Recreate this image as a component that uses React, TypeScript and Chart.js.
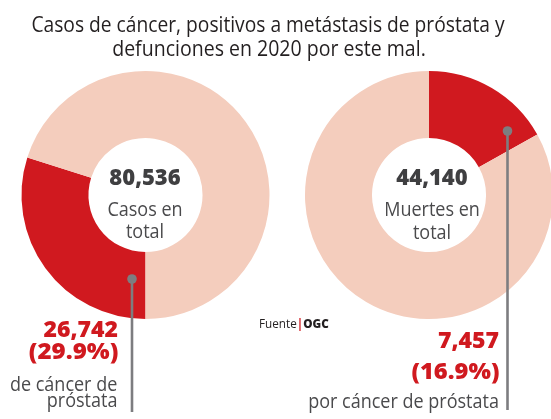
import React, { useEffect, useRef } from "react";
import { Chart, registerables } from "chart.js";

Chart.register(...registerables);

// ---- data ----
const TITLE_LINES = [
  "Casos de cáncer, positivos a metástasis de próstata y",
  "defunciones en 2020 por este mal.",
];
const SEGMENT_LABELS = ["Cáncer de próstata", "Otros"];
const CASES_VALUES = [29.9, 70.1];
const DEATHS_VALUES = [16.9, 83.1];
const CASES_TOTAL = "80,536";
const CASES_CENTER = ["Casos en", "total"];
const DEATHS_TOTAL = "44,140";
const DEATHS_CENTER = ["Muertes en", "total"];
const CASES_PROSTATE = "26,742";
const CASES_PCT = "(29.9%)";
const CASES_NOTE = ["de cáncer de", "próstata"];
const DEATHS_PROSTATE = "7,457";
const DEATHS_PCT = "(16.9%)";
const DEATHS_NOTE = ["por cáncer de próstata"];
const SOURCE = ["Fuente", "OGC"];

const RED = "#d0191f";
const PINK = "#f4cdbd";
const GREY_LINE = "#7d7d80";
const W = 551;
const H = 419;
const FONT = '"Open Sans", sans-serif';

const connectorPlugin = {
  id: "connector",
  afterDatasetsDraw(chart: any, _args: any, opts: any) {
    const arc = chart.getDatasetMeta(0).data[0];
    if (!arc) return;
    const cx = arc.x + opts.dx;
    const cy = arc.y + opts.dy;
    const ctx = chart.ctx;
    ctx.save();
    ctx.strokeStyle = opts.color;
    ctx.fillStyle = opts.color;
    ctx.lineWidth = 2.6;
    ctx.beginPath();
    ctx.moveTo(cx, cy);
    ctx.lineTo(cx, arc.y + opts.endDy);
    ctx.stroke();
    ctx.beginPath();
    ctx.arc(cx, cy, 4.8, 0, Math.PI * 2);
    ctx.fill();
    ctx.restore();
  },
};

function makeChart(
  canvas: HTMLCanvasElement,
  values: number[],
  rotation: number,
  padding: any,
  connector: any
) {
  return new Chart(canvas, {
    type: "doughnut",
    data: {
      labels: SEGMENT_LABELS,
      datasets: [
        {
          data: values,
          backgroundColor: [RED, PINK],
          borderWidth: 0,
          hoverOffset: 0,
        },
      ],
    },
    options: {
      responsive: false,
      animation: false,
      rotation,
      cutout: "46%",
      layout: { padding },
      plugins: {
        legend: { display: false },
        tooltip: { enabled: false },
        connector,
      } as any,
    },
    plugins: [connectorPlugin as any],
  });
}

function T(props: {
  x: number;
  y: number;
  size: number;
  weight?: number;
  color: string;
  align?: "left" | "center" | "right";
  sx?: number;
  children: React.ReactNode;
}) {
  const { x, y, size, weight = 400, color, align = "left", sx = 1, children } = props;
  const style: React.CSSProperties = {
    position: "absolute",
    top: y - 0.888 * size,
    fontSize: size,
    lineHeight: size + "px",
    fontWeight: weight,
    color,
    whiteSpace: "nowrap",
    fontFamily: FONT,
  };
  if (align === "left") {
    style.left = x;
    style.transformOrigin = "left center";
    style.transform = `scaleX(${sx})`;
  } else if (align === "center") {
    style.left = x;
    style.transform = `translateX(-50%) scaleX(${sx})`;
  } else {
    style.right = W - x;
    style.transformOrigin = "right center";
    style.transform = `scaleX(${sx})`;
  }
  return <div style={style}>{children}</div>;
}

export default function App() {
  const leftRef = useRef<HTMLCanvasElement>(null);
  const rightRef = useRef<HTMLCanvasElement>(null);

  useEffect(() => {
    const a = makeChart(
      leftRef.current!,
      CASES_VALUES,
      180,
      { left: 21.5, top: 71, right: 20.5, bottom: 100 },
      { dx: -13.5, dy: 84, endDy: 217, color: GREY_LINE }
    );
    const b = makeChart(
      rightRef.current!,
      DEATHS_VALUES,
      0,
      { left: 25, top: 71, right: 7, bottom: 100 },
      { dx: 78.5, dy: -64, endDy: 215, color: GREY_LINE }
    );
    return () => {
      a.destroy();
      b.destroy();
    };
  }, []);

  const dark = "#231f20";
  const mid = "#3f3f41";
  const txt = "#4a4a4c";

  return (
    <div
      style={{
        position: "fixed",
        left: 0,
        top: 0,
        width: W,
        height: H,
        overflow: "hidden",
        background: "#fff",
      }}
    >
      <canvas
        ref={leftRef}
        width={290}
        height={419}
        style={{ position: "absolute", left: 0, top: 0, width: 290, height: 419 }}
      />
      <canvas
        ref={rightRef}
        width={280}
        height={419}
        style={{ position: "absolute", left: 280, top: 0, width: 280, height: 419 }}
      />

      <T x={268} y={33} size={21} color={dark} align="center" sx={0.915}>
        {TITLE_LINES[0]}
      </T>
      <T x={269} y={57} size={21} color={dark} align="center" sx={0.93}>
        {TITLE_LINES[1]}
      </T>

      <T x={145} y={185} size={22} weight={800} color={mid} align="center">
        {CASES_TOTAL}
      </T>
      <T x={145} y={217} size={20} color={txt} align="center" sx={0.9}>
        {CASES_CENTER[0]}
      </T>
      <T x={145} y={239} size={20} color={txt} align="center" sx={0.9}>
        {CASES_CENTER[1]}
      </T>

      <T x={432} y={185} size={22} weight={800} color={mid} align="center">
        {DEATHS_TOTAL}
      </T>
      <T x={432} y={217} size={20} color={txt} align="center" sx={0.9}>
        {DEATHS_CENTER[0]}
      </T>
      <T x={432} y={240} size={20} color={txt} align="center" sx={0.9}>
        {DEATHS_CENTER[1]}
      </T>

      <T x={118} y={337} size={23} weight={800} color={RED} align="right">
        {CASES_PROSTATE}
      </T>
      <T x={118} y={359} size={23} weight={800} color={RED} align="right" sx={1.05}>
        {CASES_PCT}
      </T>
      <T x={117} y={392} size={20} color={txt} align="right" sx={0.9}>
        {CASES_NOTE[0]}
      </T>
      <T x={117} y={408} size={20} color={txt} align="right" sx={0.9}>
        {CASES_NOTE[1]}
      </T>

      <T x={499} y={348} size={23} weight={800} color={RED} align="right">
        {DEATHS_PROSTATE}
      </T>
      <T x={499} y={379} size={23} weight={800} color={RED} align="right" sx={1.03}>
        {DEATHS_PCT}
      </T>
      <T x={499} y={409} size={20} color={txt} align="right" sx={0.9}>
        {DEATHS_NOTE[0]}
      </T>

      <T x={259} y={329} size={13} color={dark} align="left" sx={0.9}>
        {SOURCE[0]}
        <span style={{ color: RED, fontWeight: 700 }}>|</span>
        <span style={{ fontWeight: 800 }}>{SOURCE[1]}</span>
      </T>
    </div>
  );
}
